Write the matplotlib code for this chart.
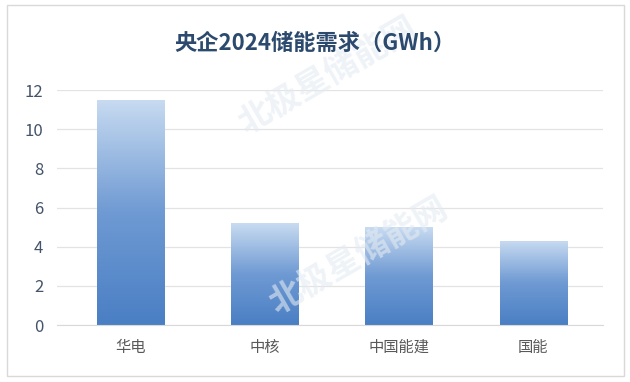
import numpy as np
import matplotlib.pyplot as plt
from matplotlib.colors import LinearSegmentedColormap
from matplotlib.patches import Rectangle

plt.rcParams['font.family'] = ['Noto Sans CJK SC', 'DejaVu Sans']

# 数据
companies = ['华电', '中核', '中国能建', '国能']
demand = [11.5, 5.2, 5.0, 4.3]
yticks = [0, 2, 4, 6, 8, 10, 12]
title = '央企2024储能需求（GWh）'

fig = plt.figure(figsize=(6.3, 3.82), dpi=100)
ax = fig.add_axes([0.0905, 0.149, 0.8667, 0.615])

# 外框
fig.patches.append(Rectangle((7 / 630, 1 - 376 / 382), 617 / 630, 371 / 382,
                             transform=fig.transFigure, fill=False,
                             edgecolor='#d9d9d9', linewidth=1.0))

# 水印（淡）
for (x, y) in [(0.52, 0.80), (0.57, 0.33)]:
    fig.text(x, y, '北极星储能网', rotation=30, fontsize=24, fontweight='bold',
             color='#e4ebf2', alpha=0.6, ha='center', va='center', zorder=0)

x = np.arange(len(companies))
bars = ax.bar(x, demand, width=0.5, color='none', edgecolor='none', zorder=2)

cmap = LinearSegmentedColormap.from_list('g', ['#4a7fc4', '#6f9ad3', '#c8dbf1'])
grad = np.linspace(0, 1, 256).reshape(-1, 1)
for b in bars:
    x0, y0 = b.get_x(), b.get_y()
    w, h = b.get_width(), b.get_height()
    im = ax.imshow(grad, extent=[x0, x0 + w, y0, y0 + h], origin='lower',
                   cmap=cmap, aspect='auto', zorder=2)
    im.set_clip_path(b)

ax.set_xlim(-0.544, 3.52)
ax.set_ylim(0, 12)
ax.set_yticks(yticks)
ax.set_xticks(x)
ax.set_xticklabels(companies)
ax.tick_params(axis='y', length=0, labelsize=12, colors='#44546a', pad=10)
ax.tick_params(axis='x', length=0, labelsize=11, colors='#595959', pad=10)
ax.grid(axis='y', color='#e3e3e3', linewidth=0.9, zorder=0)
ax.set_axisbelow(True)
for s in ['top', 'right', 'left']:
    ax.spines[s].set_visible(False)
ax.spines['bottom'].set_color('#d9d9d9')
ax.patch.set_alpha(0)

fig.text(0.5, 0.887, title, ha='center', va='center', fontsize=16,
         fontweight='bold', color='#2c4a6e')

fig.savefig('out.png', dpi=100)
